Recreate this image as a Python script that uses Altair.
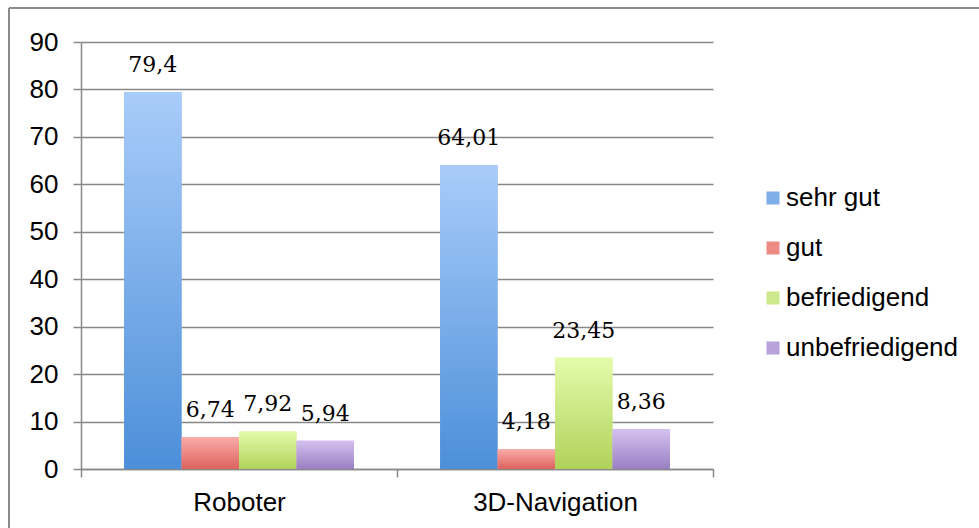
import altair as alt
import pandas as pd

categories = ["Roboter", "3D-Navigation"]
series = ["sehr gut", "gut", "befriedigend", "unbefriedigend"]
roboter = [79.4, 6.74, 7.92, 5.94]
navigation = [64.01, 4.18, 23.45, 8.36]

solid_colors = ["#7FAEEB", "#EC8A86", "#CDE88A", "#B8A2DC"]
grad_top = ["#A9CCFA", "#FAACA9", "#E3FCAB", "#D5C1F0"]
grad_bottom = ["#4C8FD9", "#DD625D", "#B0D25A", "#997FC2"]

rows = []
for cat, vals in zip(categories, [roboter, navigation]):
    for s, v in zip(series, vals):
        rows.append({"Kategorie": cat, "Bewertung": s, "Wert": v,
                     "Label": f"{v:g}".replace(".", ",")})
df = pd.DataFrame(rows)

x_enc = alt.X("Kategorie:N", sort=categories,
              scale=alt.Scale(paddingInner=0, paddingOuter=0),
              axis=alt.Axis(title=None, labelAngle=0, tickBand="extent",
                            grid=False, labelPadding=12))
xoff_enc = alt.XOffset("Bewertung:N", sort=series,
                       scale=alt.Scale(domain=series, paddingInner=0, paddingOuter=0.75))
y_enc = alt.Y("Wert:Q", scale=alt.Scale(domain=[0, 90], nice=False),
              axis=alt.Axis(title=None, values=list(range(0, 100, 10)),
                            grid=True, labelPadding=15))

base = alt.Chart(df)

solid = base.mark_bar().encode(
    x=x_enc, xOffset=xoff_enc, y=y_enc,
    color=alt.Color("Bewertung:N", sort=series,
                    scale=alt.Scale(domain=series, range=solid_colors),
                    legend=alt.Legend(title=None, orient="none", legendX=679, legendY=143,
                                      symbolType="square", symbolSize=170,
                                      labelFontSize=26, labelFont="Liberation Sans",
                                      labelColor="black", rowPadding=24, labelOffset=0,
                                      labelLimit=0, padding=0, symbolStrokeWidth=0)),
)

grad_layers = []
for s, top, bot in zip(series, grad_top, grad_bottom):
    grad_layers.append(
        base.transform_filter(alt.datum.Bewertung == s).mark_bar(
            color=alt.Gradient(gradient="linear",
                               stops=[alt.GradientStop(color=top, offset=0),
                                      alt.GradientStop(color=bot, offset=1)],
                               x1=0, x2=0, y1=0, y2=1)
        ).encode(x=x_enc, xOffset=xoff_enc, y=y_enc)
    )

text = base.mark_text(font="DejaVu Serif", fontSize=22, baseline="alphabetic",
                      dy=-20, color="black").encode(
    x=x_enc, xOffset=xoff_enc, y=y_enc, text="Label:N")

border_top = alt.Chart(df).mark_rule(color="#8c8c8c", strokeWidth=1.5).encode(
    x=alt.value(-72), x2=alt.value(1000), y=alt.value(-34))
border_left = alt.Chart(df).mark_rule(color="#8c8c8c", strokeWidth=1.5).encode(
    x=alt.value(-72), y=alt.value(-34), y2=alt.value(1000))

chart = alt.layer(solid, *grad_layers, text, border_top, border_left).properties(
    width=632, height=427,
    autosize=alt.AutoSizeParams(type="none"),
    padding={"left": 81, "top": 42, "right": 266, "bottom": 59},
    background="white",
).configure_axis(
    labelFont="Liberation Sans", labelFontSize=26, labelColor="black",
    domainColor="#888888", tickColor="#888888", gridColor="#888888",
    tickSize=8, domainWidth=1.5, gridWidth=1.5, tickWidth=1.5,
).configure_view(stroke=None)

chart.save("out.html", embed_options={"renderer": "svg", "actions": False})
